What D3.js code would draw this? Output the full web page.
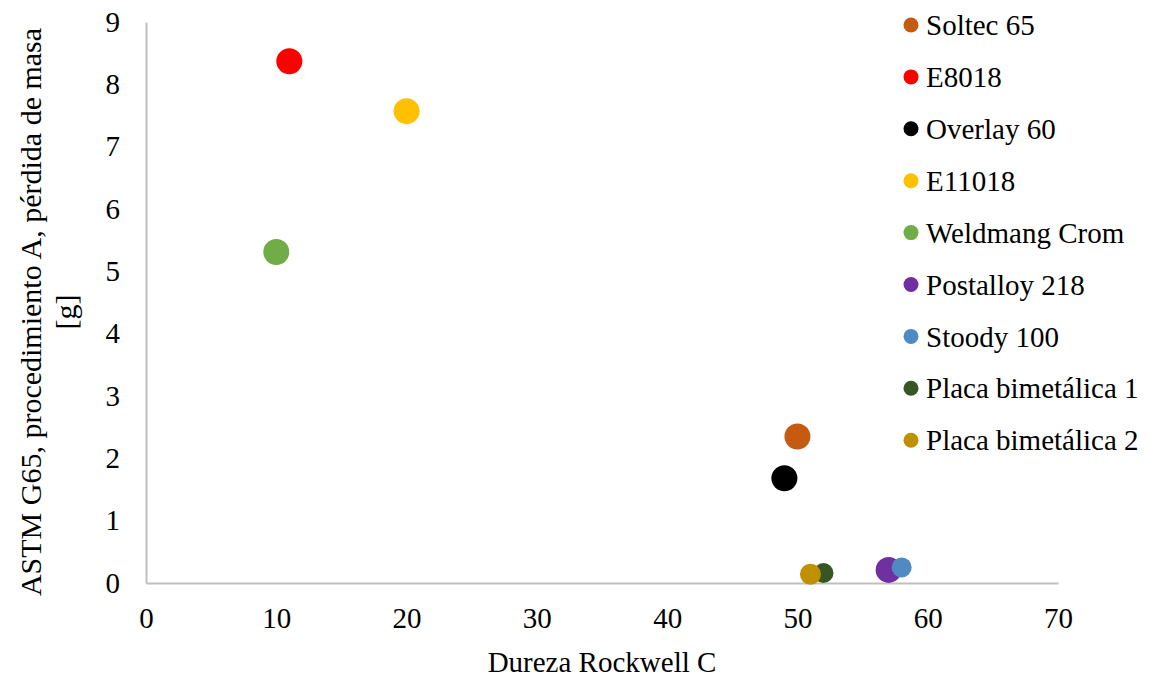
<!DOCTYPE html>
<html>
<head>
<meta charset="utf-8">
<script src="https://cdn.jsdelivr.net/npm/d3@7"></script>
<style>
  html, body { margin: 0; padding: 0; background: #fff; }
  svg { display: block; font-family: "Liberation Serif", "Times New Roman", serif; }
</style>
</head>
<body>
<svg id="chart" width="1151" height="681"></svg>
<script>
const seriesNames = ["Soltec 65", "E8018", "Overlay 60", "E11018", "Weldmang Crom",
  "Postalloy 218", "Stoody 100", "Placa bimetálica 1", "Placa bimetálica 2"];
const hardness = [50, 11, 49, 20, 10, 57, 58, 52, 51];
const massLoss = [2.35, 8.37, 1.68, 7.57, 5.31, 0.21, 0.25, 0.16, 0.14];
const bubbleSize = [13, 13, 13, 13, 13, 13, 10, 10, 10.5];
const colors = ["#C55A11", "#FF0000", "#000000", "#FFC000", "#70AD47",
  "#7030A0", "#4F8BC2", "#375623", "#BF9000"];
const xTicks = [0, 10, 20, 30, 40, 50, 60, 70];
const yTicks = [0, 1, 2, 3, 4, 5, 6, 7, 8, 9];
const xTitle = "Dureza Rockwell C";
const yTitleLines = ["ASTM G65, procedimiento A, pérdida de masa", "[g]"];

(function () {
const svg = d3.select("#chart");
const mLeft = 146, mRight = 1058, mTop = 22, mBottom = 583;

const x = d3.scaleLinear().domain([0, 70]).range([mLeft, mRight]);
const y = d3.scaleLinear().domain([0, 9]).range([mBottom, mTop]);

const fontSize = 29;
const axisColor = "#BFBFBF";

// X axis
const xAxis = svg.append("g").attr("transform", `translate(0,${mBottom})`)
  .call(d3.axisBottom(x).tickValues(xTicks).tickSize(0).tickPadding(24).tickFormat(d3.format("d")));
xAxis.select(".domain").attr("stroke", axisColor).attr("stroke-width", 2);
xAxis.selectAll("text").attr("font-size", fontSize).attr("font-family", "Liberation Serif").attr("fill", "#000");

// Y axis
const yAxis = svg.append("g").attr("transform", `translate(${mLeft},0)`)
  .call(d3.axisLeft(y).tickValues(yTicks).tickSize(0).tickPadding(26).tickFormat(d3.format("d")));
yAxis.select(".domain").attr("stroke", axisColor).attr("stroke-width", 2);
yAxis.selectAll("text").attr("font-size", fontSize).attr("font-family", "Liberation Serif").attr("fill", "#000");

// Axis titles
svg.append("text")
  .attr("x", (mLeft + mRight) / 2).attr("y", 672)
  .attr("text-anchor", "middle").attr("font-size", fontSize).attr("fill", "#000")
  .text(xTitle);

const yt = svg.append("text")
  .attr("transform", `translate(30,312) rotate(-90)`)
  .attr("text-anchor", "middle").attr("font-size", 30).attr("fill", "#000");
yTitleLines.forEach((line, i) => {
  yt.append("tspan").attr("x", 0).attr("dy", i === 0 ? "0.35em" : 35).text(line);
});

// Points
const data = seriesNames.map((n, i) => ({ name: n, x: hardness[i], y: massLoss[i], r: bubbleSize[i], c: colors[i] }));
svg.append("g").selectAll("circle").data(data).join("circle")
  .attr("cx", d => x(d.x)).attr("cy", d => y(d.y)).attr("r", d => d.r)
  .attr("fill", d => d.c);

// Legend
const lg = svg.append("g").attr("transform", "translate(911,25)");
const rows = lg.selectAll("g").data(data).join("g")
  .attr("transform", (d, i) => `translate(0,${i * 51.9})`);
rows.append("circle").attr("r", 7.5).attr("fill", d => d.c);
rows.append("text").attr("x", 15).attr("dy", "0.35em")
  .attr("font-size", fontSize).attr("fill", "#000").text(d => d.name);
})();
</script>
</body>
</html>
